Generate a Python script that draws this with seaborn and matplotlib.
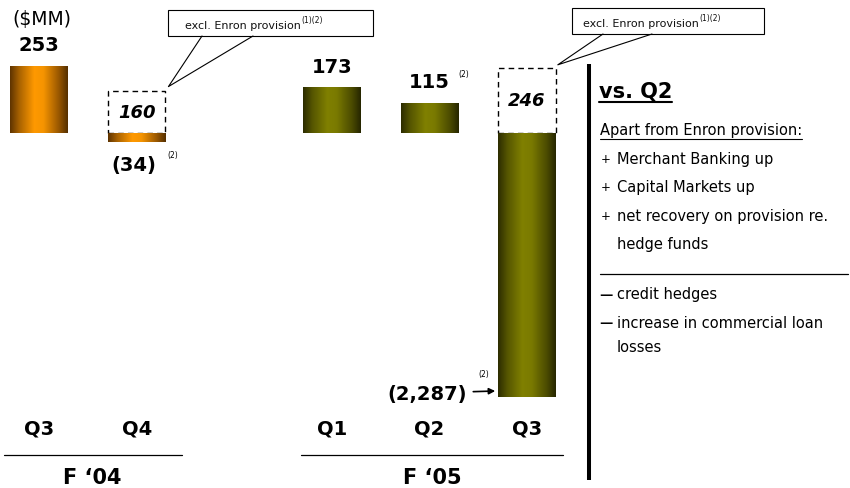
import numpy as np
import pandas as pd
import matplotlib
matplotlib.use("Agg")
import matplotlib.pyplot as plt
import matplotlib.transforms as mtransforms
from matplotlib.colors import LinearSegmentedColormap
from matplotlib.lines import Line2D
from matplotlib.patches import Rectangle
import seaborn as sns

# ---------------- data ----------------
categories = ["F04 Q3", "F04 Q4", "gap", "F05 Q1", "F05 Q2", "F05 Q3"]
quarter_labels = ["Q3", "Q4", "", "Q1", "Q2", "Q3"]
fiscal_year = ["F04", "F04", "", "F05", "F05", "F05"]
net_income = [253, -34, np.nan, 173, 115, -2287]
excl_enron = [np.nan, 160, np.nan, np.nan, np.nan, 246]
value_labels = ["253", "(34)", "", "173", "115", "(2,287)"]
footnotes = ["", "(2)", "", "", "(2)", "(2)"]
group_keys = ["F04", "F05"]
group_names = ["F \u201804", "F \u201805"]
unit_label = "(\\$MM)"
callout_text = "excl. Enron provision"
callout_note = "(1)(2)"
panel_title = "vs. Q2"
panel_subtitle = "Apart from Enron provision:"
panel_plus = ["+", "+", "+", ""]
panel_plus_text = ["Merchant Banking up", "Capital Markets up",
                   "net recovery on provision re.", "hedge funds"]
panel_minus_dash = ["\u2014", "\u2014", ""]
panel_minus_text = ["credit hedges", "increase in commercial loan", "losses"]

# ---------------- style ----------------
sns.set_theme(style="white")
plt.rcParams["font.family"] = ["DejaVu Sans"]
plt.rcParams["text.color"] = "black"
plt.rcParams["axes.labelcolor"] = "black"
plt.rcParams["xtick.color"] = "black"
plt.rcParams["ytick.color"] = "black"

W, H = 850, 489
fig = plt.figure(figsize=(8.5, 4.89), dpi=100)
fig.patch.set_facecolor("white")


def P(x, y):
    """image pixel (y down) -> figure fraction"""
    return x / W, 1 - y / H


AX_BOTTOM = 410
ax = fig.add_axes([0, 1 - AX_BOTTOM / H, 580 / W, AX_BOTTOM / H])
ax.set_facecolor("none")

BAR_W = 0.59
base_colors = {"F04": "#ff9900", "F05": "#808000"}

df = pd.DataFrame({"cat": categories, "value": net_income, "fy": fiscal_year}).dropna()
sns.barplot(data=df, x="cat", y="value", hue="fy", order=categories, hue_order=group_keys,
            palette=base_colors, width=BAR_W, dodge=False, legend=False, errorbar=None,
            saturation=1, linewidth=0, ax=ax, zorder=2)
bar_patches = list(ax.patches)

ex_df = pd.DataFrame({"cat": categories, "value": excl_enron}).dropna()
sns.barplot(data=ex_df, x="cat", y="value", order=categories, width=BAR_W, fill=False,
            color="black", linewidth=1.0, linestyle=(0, (4, 3)), errorbar=None, ax=ax, zorder=1)
box_patches = [p for p in ax.patches if p not in bar_patches]
for p in box_patches:
    p.set_edgecolor("black")
    p.set_facecolor("white")
    p.set_fill(True)

# piecewise scale: negative values beyond the break are compressed
BRK, K = -50.0, 0.423


def fwd(y):
    y = np.asarray(y, dtype=float)
    return np.where(y >= BRK, y, BRK + (y - BRK) * K)


def inv(v):
    v = np.asarray(v, dtype=float)
    return np.where(v >= BRK, v, BRK + (v - BRK) / K)


ax.set_yscale("function", functions=(fwd, inv))
ax.set_xlim(-0.4, 5.543)
ax.set_ylim(-2394, 505.7)
ax.set_autoscale_on(False)

ax.set_xticks(range(len(categories)))
ax.set_xticklabels(quarter_labels, fontsize=14, fontweight="bold", color="black")
ax.tick_params(axis="x", length=0, pad=7)
ax.set_yticks([])
ax.set_xlabel("")
ax.set_ylabel("")
for s in ax.spines.values():
    s.set_visible(False)

# gradient shading of bars
cmaps = {
    "F04": LinearSegmentedColormap.from_list("o", [(0, "#5e3300"), (0.16, "#a86200"), (0.42, "#ff9900"),
                                                   (0.58, "#f59400"), (0.84, "#9a5800"), (1, "#553000")]),
    "F05": LinearSegmentedColormap.from_list("g", [(0, "#2c2c00"), (0.16, "#555500"), (0.42, "#808000"),
                                                   (0.58, "#7a7a00"), (0.84, "#4c4c00"), (1, "#262600")]),
}
grad = np.linspace(0, 1, 256).reshape(1, -1)
fig.canvas.draw()
for p in bar_patches:
    idx = int(round(p.get_x() + p.get_width() / 2))
    cm = cmaps[fiscal_year[idx]]
    corners = ax.transData.transform([[p.get_x(), p.get_y()],
                                      [p.get_x() + p.get_width(), p.get_y() + p.get_height()]])
    (x0, y0), (x1, y1) = ax.transAxes.inverted().transform(corners)
    im = ax.imshow(grad, cmap=cm, extent=[x0, x1, min(y0, y1), max(y0, y1)],
                   transform=ax.transAxes, aspect="auto", interpolation="bilinear", zorder=3)
    im.set_clip_path(p)
ax.set_xlim(-0.4, 5.543)
ax.set_ylim(-2394, 505.7)

# value labels
for i, (v, lab, fn) in enumerate(zip(net_income, value_labels, footnotes)):
    if not lab or i == 5:
        continue
    if v > 0:
        ax.annotate(lab, (i, v), xytext=(0, 21), textcoords="offset pixels", ha="center",
                    va="center", fontsize=14, fontweight="bold", zorder=5)
        if fn:
            ax.annotate(fn, (i, v), xytext=(34, 29), textcoords="offset pixels", ha="center",
                        va="center", fontsize=5.5, zorder=5)
    else:
        ax.annotate(lab, (i, v), xytext=(-3, -22), textcoords="offset pixels", ha="center",
                    va="center", fontsize=14, fontweight="bold", zorder=5)
        if fn:
            ax.annotate(fn, (i, v), xytext=(36, -12), textcoords="offset pixels", ha="center",
                        va="center", fontsize=5.5, zorder=5)

# big negative bar label with arrow
i = 5
tip_tr = mtransforms.offset_copy(ax.transData, fig=fig, x=-3, y=6, units="dots")
ax.annotate(value_labels[i], xy=(i - BAR_W / 2, net_income[i]), xycoords=tip_tr,
            xytext=(-28, -2), textcoords="offset pixels", ha="right", va="center",
            fontsize=14, fontweight="bold", zorder=5,
            arrowprops=dict(arrowstyle="-|>", color="black", lw=1.2, shrinkA=2, shrinkB=0,
                            mutation_scale=9))
ax.annotate(footnotes[i], xy=(i - BAR_W / 2, net_income[i]), xycoords=tip_tr,
            xytext=(-11, 18), textcoords="offset pixels", ha="center", va="center",
            fontsize=5.5, zorder=5)

# dashed "excl. Enron" values
for i, v in enumerate(excl_enron):
    if np.isnan(v):
        continue
    ax.text(i, v / 2, f"{v:.0f}", ha="center", va="center", fontsize=13,
            fontweight="bold", style="italic", zorder=5)

# unit label
fig.text(*P(12, 20), unit_label, ha="left", va="center", fontsize=13.5)

# callouts
renderer = fig.canvas.get_renderer()
callouts = [
    # box x0, x1, y0, y1, base xs, text x, text y, tip offset, category index
    (168, 373, 11, 37, (202, 253), 185, 26, (3, 4), 1),
    (572, 764, 9, 35, (603, 652), 583, 24, (2, 3), 5),
]
for bx0, bx1, by0, by1, bases, tx, ty, off, ci in callouts:
    corner = ax.transData.transform((ci + BAR_W / 2, excl_enron[ci]))
    tip = fig.transFigure.inverted().transform((corner[0] + off[0], corner[1] + off[1]))
    b1 = P(bases[0], by1)
    b2 = P(bases[1], by1)
    fig.add_artist(Line2D([b1[0], tip[0], b2[0]], [b1[1], tip[1], b2[1]],
                          transform=fig.transFigure, color="black", lw=0.8))
    x0f, y1f = P(bx0, by1)
    x1f, y0f = P(bx1, by0)
    fig.add_artist(Rectangle((x0f, y1f), x1f - x0f, y0f - y1f, transform=fig.transFigure,
                             facecolor="white", edgecolor="black", lw=0.8))
    t = fig.text(*P(tx, ty), callout_text, ha="left", va="center", fontsize=8, color="#111111")
    bb = t.get_window_extent(renderer)
    sx = fig.transFigure.inverted().transform((bb.x1 + 1, 0))[0]
    fig.text(sx, P(0, ty - 6)[1], callout_note, ha="left", va="center", fontsize=5.5,
             color="#111111")

# group axis lines & labels
blend = mtransforms.blended_transform_factory(ax.transData, fig.transFigure)
groups = [(0, 1), (3, 5)]
pads = [(-0.36, 0.46), (-0.32, 0.37)]
for (a, b), (pl, pr), name in zip(groups, pads, group_names):
    yl = P(0, 456)[1]
    fig.add_artist(Line2D([a + pl, b + pr], [yl, yl], transform=blend, color="black", lw=0.9))
    fig.text((a + pl + b + pr) / 2, P(0, 478)[1], name, transform=blend, ha="center",
             va="center", fontsize=15, fontweight="bold")

# right panel
fig.add_artist(Line2D([P(589, 0)[0]] * 2, [P(0, 65)[1], P(0, 481)[1]],
                      transform=fig.transFigure, color="black", lw=2.9, solid_capstyle="butt"))


def underlined(x, y, s, ul_y, lw, **kw):
    t = fig.text(*P(x, y), s, ha="left", va="center", **kw)
    bb = t.get_window_extent(renderer)
    inv_f = fig.transFigure.inverted()
    xa = inv_f.transform((bb.x0, 0))[0]
    xb = inv_f.transform((bb.x1, 0))[0]
    yu = P(0, ul_y)[1]
    fig.add_artist(Line2D([xa, xb], [yu, yu], transform=fig.transFigure, color="black", lw=lw))


underlined(599, 92, panel_title, 103, 1.5, fontsize=15, fontweight="bold")
underlined(600, 131, panel_subtitle, 139.5, 0.8, fontsize=10.5)

plus_y = [160, 188, 217, 245]
for sym, txt, y in zip(panel_plus, panel_plus_text, plus_y):
    if sym:
        fig.text(*P(601, y), sym, ha="left", va="center", fontsize=8.5)
    fig.text(*P(617, y), txt, ha="left", va="center", fontsize=10.5)

fig.add_artist(Line2D([P(600, 0)[0], P(848, 0)[0]], [P(0, 275)[1]] * 2,
                      transform=fig.transFigure, color="black", lw=0.9))

minus_y = [295, 323, 347]
for sym, txt, y in zip(panel_minus_dash, panel_minus_text, minus_y):
    if sym:
        fig.text(*P(599, y), sym, ha="left", va="center", fontsize=9.5, fontweight="bold")
    fig.text(*P(617, y), txt, ha="left", va="center", fontsize=10.5)

fig.savefig("out.png", dpi=100, facecolor="white")
